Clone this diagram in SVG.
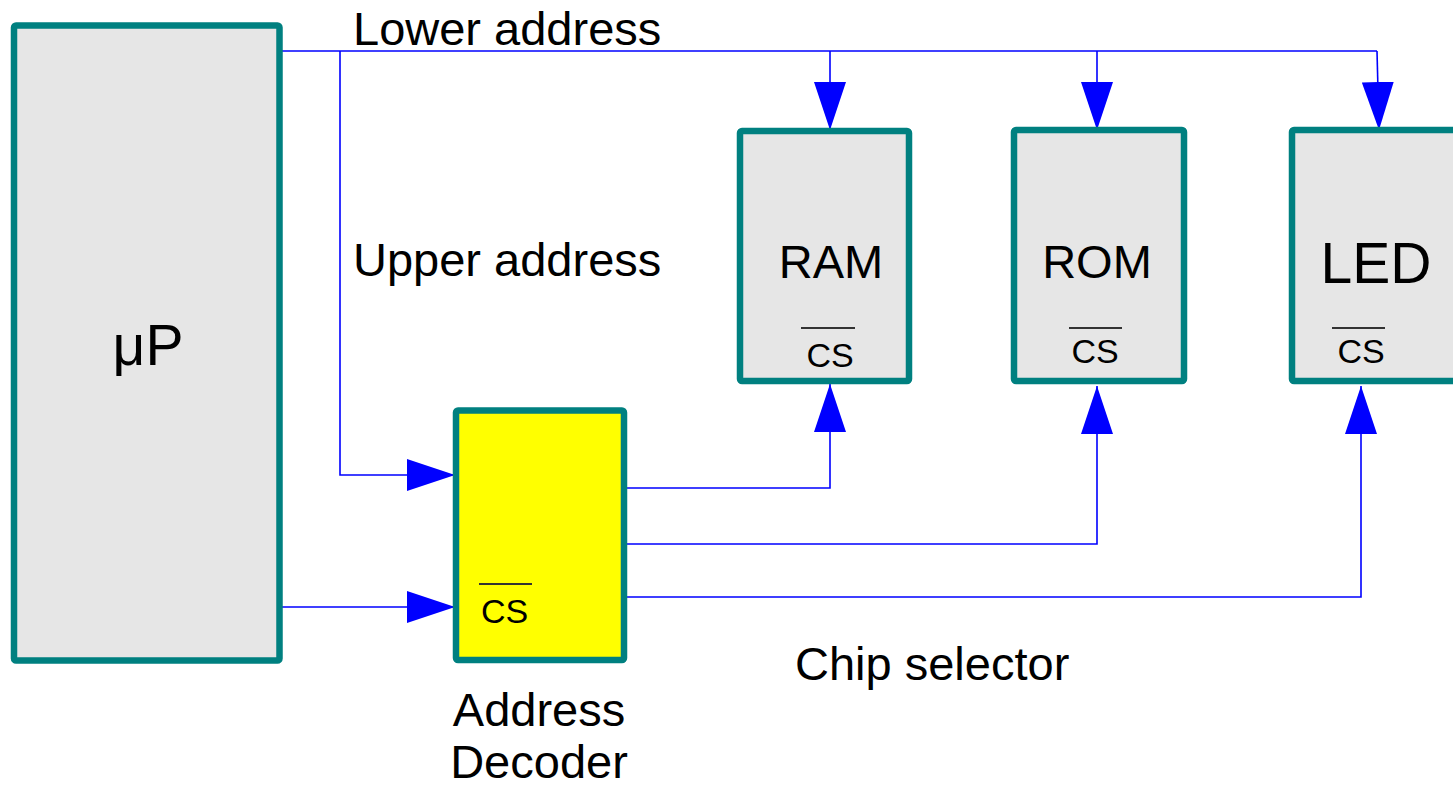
<svg xmlns="http://www.w3.org/2000/svg" width="1453" height="787" viewBox="0 0 1453 787">
<style>
.box{fill:#e6e6e6;stroke:#008080;stroke-width:6.5;stroke-linejoin:round}
.dec{fill:#ffff00;stroke:#008080;stroke-width:6.5;stroke-linejoin:round}
.wire{fill:none;stroke:#0000ff;stroke-width:1.6}
.arr{fill:none;stroke:#0000ff;stroke-width:1.6;marker-end:url(#ah)}
text{font-family:"Liberation Sans",Arial,sans-serif;fill:#000}
.lbl{font-size:47px}
.cs{font-size:34px}
.ol{stroke:#333;stroke-width:2}
</style>
<defs>
<marker id="ah" viewBox="0 0 48 32" refX="48" refY="16" markerWidth="48" markerHeight="32" markerUnits="userSpaceOnUse" orient="auto">
<path d="M0,0 L48,16 L0,32 Z" fill="#0000ff"/>
</marker>
</defs>
<g id="connectors">
<path class="wire" d="M282,51 H1377"/>
<path class="arr" d="M340,51 V475 H455"/>
<path class="arr" d="M830,51 V130"/>
<path class="arr" d="M1097,51 V130"/>
<path class="arr" d="M1377,51 L1379,130"/>
<path class="arr" d="M282,607 H455"/>
<path class="arr" d="M627,488 H830 V384"/>
<path class="arr" d="M627,544 H1097 V386"/>
<path class="arr" d="M627,597 H1361 V386"/>
</g>
<g id="up">
<rect class="box" x="14" y="25.5" width="265.5" height="635" rx="2"/>
<text x="148" y="365" text-anchor="middle" style="font-size:57px">μP</text>
</g>
<g id="decoder">
<rect class="dec" x="456" y="410.5" width="168" height="249.5" rx="2"/>
<line class="ol" x1="479" y1="584" x2="532" y2="584"/>
<text class="cs" x="481" y="623">CS</text>
</g>
<g id="ram">
<rect class="box" x="740" y="131" width="169" height="250" rx="2"/>
<text class="lbl" x="831" y="278" text-anchor="middle">RAM</text>
<line class="ol" x1="801" y1="328" x2="855" y2="328"/>
<text class="cs" x="830" y="367" text-anchor="middle">CS</text>
</g>
<g id="rom">
<rect class="box" x="1014" y="130" width="170" height="251" rx="2"/>
<text class="lbl" x="1097" y="278" text-anchor="middle">ROM</text>
<line class="ol" x1="1069" y1="328" x2="1122" y2="328"/>
<text class="cs" x="1095" y="363" text-anchor="middle">CS</text>
</g>
<g id="led">
<rect class="box" x="1292" y="130" width="200" height="251" rx="2"/>
<text x="1376" y="283" text-anchor="middle" style="font-size:57px">LED</text>
<line class="ol" x1="1332" y1="328" x2="1385" y2="328"/>
<text class="cs" x="1361" y="363" text-anchor="middle">CS</text>
</g>
<g id="labels">
<text class="lbl" x="353" y="45">Lower address</text>
<text class="lbl" x="353" y="276">Upper address</text>
<text class="lbl" x="795" y="680">Chip selector</text>
<text class="lbl" x="539" y="726" text-anchor="middle">Address</text>
<text class="lbl" x="539" y="778" text-anchor="middle">Decoder</text>
</g>
</svg>
